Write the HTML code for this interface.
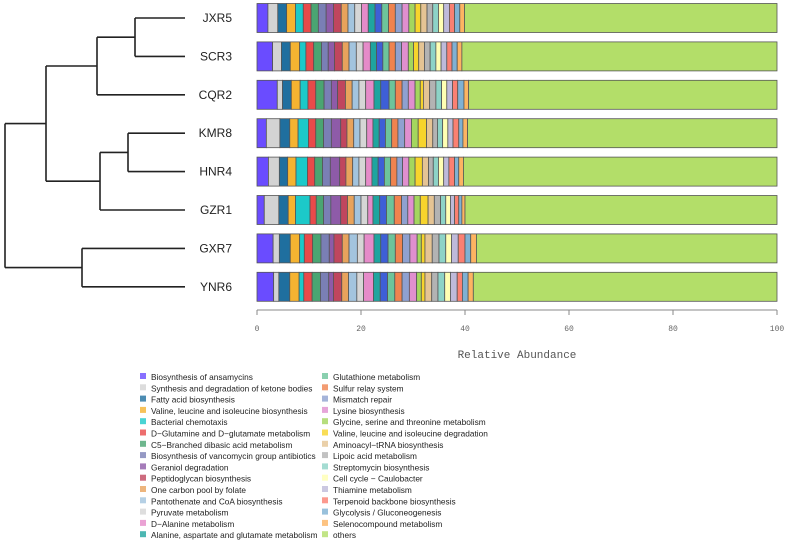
<!DOCTYPE html>
<html><head><meta charset="utf-8"><style>
body{margin:0;background:#fff;width:788px;height:542px;overflow:hidden;font-family:"Liberation Sans",sans-serif}
svg{display:block}
</style></head><body>
<svg id="chart" width="788" height="542"></svg>
<script>
const samples=["JXR5","SCR3","CQR2","KMR8","HNR4","GZR1","GXR7","YNR6"];
const categories=["Biosynthesis of ansamycins","Synthesis and degradation of ketone bodies","Fatty acid biosynthesis","Valine, leucine and isoleucine biosynthesis","Bacterial chemotaxis","D\u2212Glutamine and D\u2212glutamate metabolism","C5\u2212Branched dibasic acid metabolism","Biosynthesis of vancomycin group antibiotics","Geraniol degradation","Peptidoglycan biosynthesis","One carbon pool by folate","Pantothenate and CoA biosynthesis","Pyruvate metabolism","D\u2212Alanine metabolism","Alanine, aspartate and glutamate metabolism","Pentose phosphate pathway","Glutathione metabolism","Sulfur relay system","Mismatch repair","Lysine biosynthesis","Glycine, serine and threonine metabolism","Valine, leucine and isoleucine degradation","Aminoacyl\u2212tRNA biosynthesis","Lipoic acid metabolism","Streptomycin biosynthesis","Cell cycle \u2212 Caulobacter","Thiamine metabolism","Terpenoid backbone biosynthesis","Glycolysis / Gluconeogenesis","Selenocompound metabolism","others"];
const colors=["#6a4cff","#d3d3d3","#1f6f9f","#f5b331","#1cc9c9","#e84a4a","#4aa572","#7a7fb5","#8e5ba8","#c0465e","#e8a35c","#a3c4de","#d6d6d6","#e58bc9","#1fa59f","#3e5fd6","#6dc49b","#f0834f","#8fa1d0","#e08fcf","#a4d65e","#f7d42c","#e5c494","#b3b3b3","#8dd3c7","#ffffb3","#bebada","#fb8072","#80b1d3","#fdb462","#b3de69"];
const vJXR5=[2.1,1.9,1.7,1.7,1.5,1.5,1.4,1.5,1.4,1.5,1.3,1.3,1.3,1.3,1.3,1.3,1.3,1.3,1.3,1.3,1.2,1.1,1.2,1.1,1.1,1.0,1.1,1.0,1.0,0.9,60.1];
const vSCR3=[3.0,1.7,1.7,1.8,1.2,1.5,1.5,1.3,1.2,1.5,1.3,1.4,1.3,1.4,1.2,1.2,1.2,1.2,1.2,1.3,1.0,1.0,1.1,1.1,1.1,1.0,1.1,1.0,1.0,0.9,60.6];
const vCQR2=[3.9,1.0,1.7,1.7,1.5,1.5,1.6,1.4,1.2,1.5,1.3,1.3,1.3,1.6,1.3,1.6,1.2,1.3,1.2,1.3,1.0,0.6,1.2,1.2,1.1,1.0,1.1,1.0,1.2,0.9,59.3];
const vKMR8=[1.8,2.6,1.9,1.6,2.0,1.4,1.5,1.5,1.8,1.2,1.3,1.2,1.3,1.2,1.2,1.2,1.2,1.2,1.3,1.3,1.3,1.6,1.2,0.9,1.0,1.0,1.0,1.1,0.8,0.9,59.5];
const vHNR4=[2.2,2.1,1.6,1.6,2.2,1.4,1.5,1.5,1.8,1.2,1.3,1.2,1.3,1.2,1.2,1.2,1.2,1.2,1.1,1.2,1.2,1.4,1.2,0.9,1.0,1.0,1.0,1.1,0.8,0.9,60.3];
const vGZR1=[1.4,2.8,1.8,1.4,2.8,1.2,1.4,1.4,1.9,1.3,1.3,1.3,1.3,1.0,1.3,1.3,1.5,1.4,1.2,1.2,1.2,1.5,1.2,1.2,1.0,0.9,0.8,0.8,0.6,0.6,60.0];
const vGXR7=[3.1,1.2,2.1,1.8,0.9,1.6,1.6,1.6,0.9,1.6,1.3,1.6,1.3,1.9,1.3,1.4,1.4,1.4,1.4,1.4,0.8,0.7,1.4,1.3,1.3,1.1,1.3,1.3,1.1,1.1,57.8];
const vYNR6=[3.2,1.0,2.1,1.8,0.9,1.6,1.6,1.6,0.9,1.6,1.3,1.6,1.3,1.9,1.3,1.4,1.4,1.4,1.4,1.4,0.9,0.7,1.3,1.2,1.3,1.1,1.3,1.0,1.1,1.0,58.4];
const seriesValues=[vJXR5,vSCR3,vCQR2,vKMR8,vHNR4,vGZR1,vGXR7,vYNR6];
const xTicks=[0,20,40,60,80,100];

const NS="http://www.w3.org/2000/svg";
const svg=document.getElementById('chart');
function mk(t,a,p){const e=document.createElementNS(NS,t);for(const k in a)e.setAttribute(k,a[k]);(p||svg).appendChild(e);return e;}
const X0=257,X1=777;
const xs=v=>X0+(X1-X0)*v/100;
const rowY=i=>18+i*38.4;
const BH=29;

samples.forEach((s,i)=>{
  const g=mk('g',{});
  
  
  let acc=0;
  seriesValues[i].forEach((v,j)=>{
    const r=mk('rect',{x:xs(acc),y:rowY(i)-BH/2,width:xs(acc+v)-xs(acc),height:BH,fill:colors[j],stroke:'#555','stroke-width':0.8},g);
    
    
    acc+=v;
  });
  const t=mk('text',{x:232,y:rowY(i)+4,'text-anchor':'end','font-size':12,fill:'#222'});
  t.textContent=s;
  
  
});

const ax=mk('g',{});


mk('line',{x1:X0,x2:X1,y1:310,y2:310,stroke:'#888','stroke-width':1},ax);
xTicks.forEach(v=>{
  mk('line',{x1:xs(v),x2:xs(v),y1:310,y2:315,stroke:'#888'},ax);
  const t=mk('text',{x:xs(v),y:331,'text-anchor':'middle','font-size':8,fill:'#666','font-family':'Liberation Mono, monospace'},ax);
  t.textContent=v;
  
  
});
const xt=mk('text',{x:517,y:358,'text-anchor':'middle','font-size':11,fill:'#555','font-family':'Liberation Mono, monospace'});
xt.textContent='Relative Abundance';



const dg=mk('g',{stroke:'#222','stroke-width':1.6,fill:'none'});


const Lx=185;
function seg(x1,y1,x2,y2){mk('line',{x1,y1,x2,y2},dg);}
const y=rowY;
seg(135,y(0),Lx,y(0));seg(135,y(1),Lx,y(1));seg(135,y(0),135,y(1));
const a1=(y(0)+y(1))/2;
seg(97,a1,135,a1);seg(97,y(2),Lx,y(2));seg(97,a1,97,y(2));
const a2=(a1+y(2))/2;
seg(128,y(3),Lx,y(3));seg(128,y(4),Lx,y(4));seg(128,y(3),128,y(4));
const b1=(y(3)+y(4))/2;
seg(100,b1,128,b1);seg(100,y(5),Lx,y(5));seg(100,b1,100,y(5));
const b2=(b1+y(5))/2;
seg(46,a2,97,a2);seg(46,b2,100,b2);seg(46,a2,46,b2);
const c1=(a2+b2)/2;
seg(82,y(6),Lx,y(6));seg(82,y(7),Lx,y(7));seg(82,y(6),82,y(7));
const d1=(y(6)+y(7))/2;
seg(5,c1,46,c1);seg(5,d1,82,d1);seg(5,c1,5,d1);

const lg=mk('g',{});


categories.forEach((c,j)=>{
  const col=j<16?0:1, row=j<16?j:j-16;
  const lx=col?322:140, ly=377+row*11.3;
  const e=mk('g',{},lg);
  
  
  mk('rect',{x:lx,y:ly-4,width:6,height:6,fill:colors[j],opacity:0.8},e);
  const t=mk('text',{x:lx+11,y:ly+3,'font-size':8.3,fill:'#222'},e);
  t.textContent=c;
});
</script>
</body></html>
